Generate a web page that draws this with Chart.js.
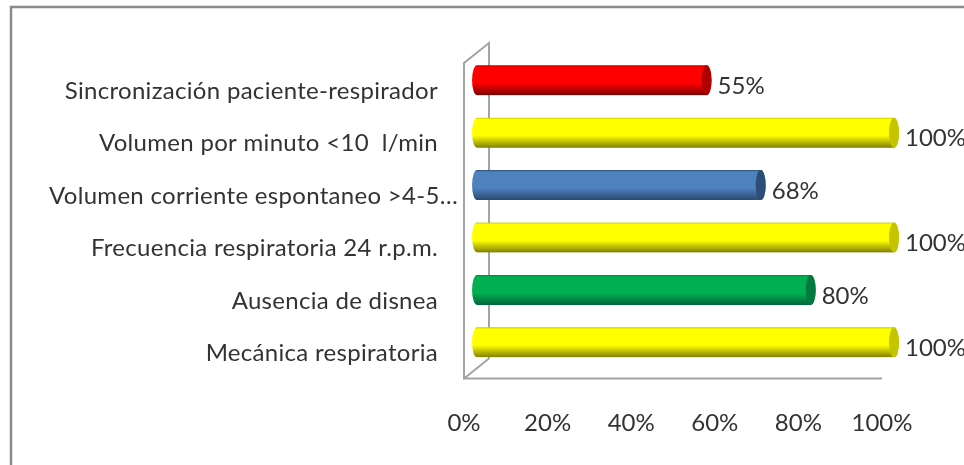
<!DOCTYPE html>
<html>
<head>
<meta charset="utf-8">
<script src="https://cdn.jsdelivr.net/npm/chart.js@4"></script>
<style>
html, body { margin: 0; padding: 0; background: #fff; overflow: hidden; }
#wrap { width: 964px; height: 465px; position: relative; }
</style>
</head>
<body>
<div id="wrap"><canvas id="myChart"></canvas></div>
<script>
var categories = [
    'Sincronización paciente-respirador',
    'Volumen por minuto <10  l/min',
    'Volumen corriente espontaneo >4-5…',
    'Frecuencia respiratoria 24 r.p.m.',
    'Ausencia de disnea',
    'Mecánica respiratoria'
];
var values = [55, 100, 68, 100, 80, 100];
var xTicks = [0, 20, 40, 60, 80, 100];

// colour of each bar: [body, end cap, bottom shade]
var barColors = [
    ['#ff0000', '#b00000', '#7a0000'],
    ['#ffff00', '#c4c400', '#808000'],
    ['#4f81bd', '#2c4d75', '#2a4a72'],
    ['#ffff00', '#c4c400', '#808000'],
    ['#00b050', '#007a3d', '#00663a'],
    ['#ffff00', '#c4c400', '#808000']
];

var FONT = '24px Lato';
var TEXT = '#333333';
var GRAY = '#a3a3a3';
var DEPTH_X = 25, DEPTH_Y = 20;
var BAR_H = 30;
var CAP_RX = 5;

function barGradient(ctx) {
    var chart = ctx.chart, y = chart.scales.y;
    if (!y || ctx.dataIndex === undefined) return barColors[0][0];
    var c = y.getPixelForValue(ctx.dataIndex);
    var col = barColors[ctx.dataIndex];
    if (!isFinite(c)) return col[0]; // todavia sin layout
    var g = chart.ctx.createLinearGradient(0, c - BAR_H / 2, 0, c + BAR_H / 2);
    g.addColorStop(0, col[1]);
    g.addColorStop(0.06, col[0]);
    g.addColorStop(0.6, col[0]);
    g.addColorStop(1, col[2]);
    return g;
}

// marco exterior y caja 3D
var framePlugin = {
    id: 'frame',
    beforeDatasetsDraw: function(chart) {
        var c = chart.ctx, a = chart.chartArea, x = chart.scales.x;
        var x0 = x.getPixelForValue(0), x1 = x.getPixelForValue(100);
        var top = a.top + 9, bottom = a.bottom + 10;
        c.save();
        c.strokeStyle = '#8a8a8a';
        c.lineWidth = 2.5;
        c.beginPath();
        c.moveTo(11, 465); c.lineTo(11, 7); c.lineTo(964, 7);
        c.stroke();
        c.strokeStyle = GRAY;
        c.lineWidth = 2;
        c.beginPath();
        c.moveTo(x0 + DEPTH_X, bottom - DEPTH_Y);
        c.lineTo(x0 + DEPTH_X, top - DEPTH_Y);
        c.lineTo(x0, top);
        c.lineTo(x0, bottom);
        c.lineTo(x1, bottom);
        c.moveTo(x0, bottom);
        c.lineTo(x0 + DEPTH_X, bottom - DEPTH_Y);
        c.stroke();
        c.restore();
    },
    // recorta cada barra con forma de cilindro
    beforeDatasetDraw: function(chart) {
        var c = chart.ctx;
        c.save();
        c.beginPath();
        chart.getDatasetMeta(0).data.forEach(function(bar) {
            var h = BAR_H / 2;
            c.moveTo(bar.base + CAP_RX, bar.y - h);
            c.lineTo(bar.x - CAP_RX, bar.y - h);
            c.ellipse(bar.x - CAP_RX, bar.y, CAP_RX, h, 0, -Math.PI / 2, Math.PI / 2);
            c.lineTo(bar.base + CAP_RX, bar.y + h);
            c.ellipse(bar.base + CAP_RX, bar.y, CAP_RX, h, 0, Math.PI / 2, Math.PI * 1.5);
            c.closePath();
        });
        c.clip();
    },
    afterDatasetDraw: function(chart) {
        chart.ctx.restore();
    },
    afterDatasetsDraw: function(chart) {
        var c = chart.ctx, y = chart.scales.y;
        var bars = chart.getDatasetMeta(0).data;
        c.save();
        c.font = FONT;
        c.textBaseline = 'middle';
        bars.forEach(function(bar, i) {
            // tapa del cilindro
            c.fillStyle = barColors[i][1];
            c.beginPath();
            c.ellipse(bar.x - CAP_RX, bar.y, CAP_RX, BAR_H / 2, 0, 0, Math.PI * 2);
            c.fill();
            // etiqueta de valor
            c.fillStyle = TEXT;
            c.textAlign = 'left';
            c.letterSpacing = '0px';
            c.fillText(values[i] + '%', bar.x + 6, bar.y + 6);
            // etiqueta de categoria
            c.textAlign = 'right';
            c.letterSpacing = '0.3px';
            var end = categories[i].indexOf('…') >= 0 ? 458 : 438;
            c.fillText(categories[i], end, y.getPixelForValue(i) + 11);
        });
        c.restore();
    }
};

var ctx = document.getElementById('myChart').getContext('2d');
var chart = new Chart(ctx, {
    type: 'bar',
    data: {
        labels: categories,
        datasets: [{
            data: values,
            xAxisID: 'x2',
            base: -2.5,
            barThickness: BAR_H,
            backgroundColor: barGradient,
            borderWidth: 0
        }]
    },
    options: {
        indexAxis: 'y',
        responsive: true,
        maintainAspectRatio: false,
        animation: false,
        layout: { padding: { left: 464, right: 65, top: 54, bottom: 0 } },
        plugins: { legend: { display: false }, tooltip: { enabled: false } },
        scales: {
            x: {
                min: 0,
                max: 104.07,
                afterBuildTicks: function(s) {
                    s.ticks = xTicks.map(function(v) { return { value: v }; });
                },
                afterFit: function(s) { s.height = 96.5; },
                grid: { display: false, drawTicks: false },
                border: { display: false },
                ticks: {
                    maxRotation: 0,
                    autoSkip: false,
                    padding: 40,
                    color: TEXT,
                    font: { family: 'Lato', size: 24 },
                    callback: function(v) { return v + '%'; }
                }
            },
            x2: {
                display: false,
                min: -4.43,
                max: 100
            },
            y: {
                display: false
            }
        }
    },
    plugins: [framePlugin]
});
</script>
</body>
</html>
